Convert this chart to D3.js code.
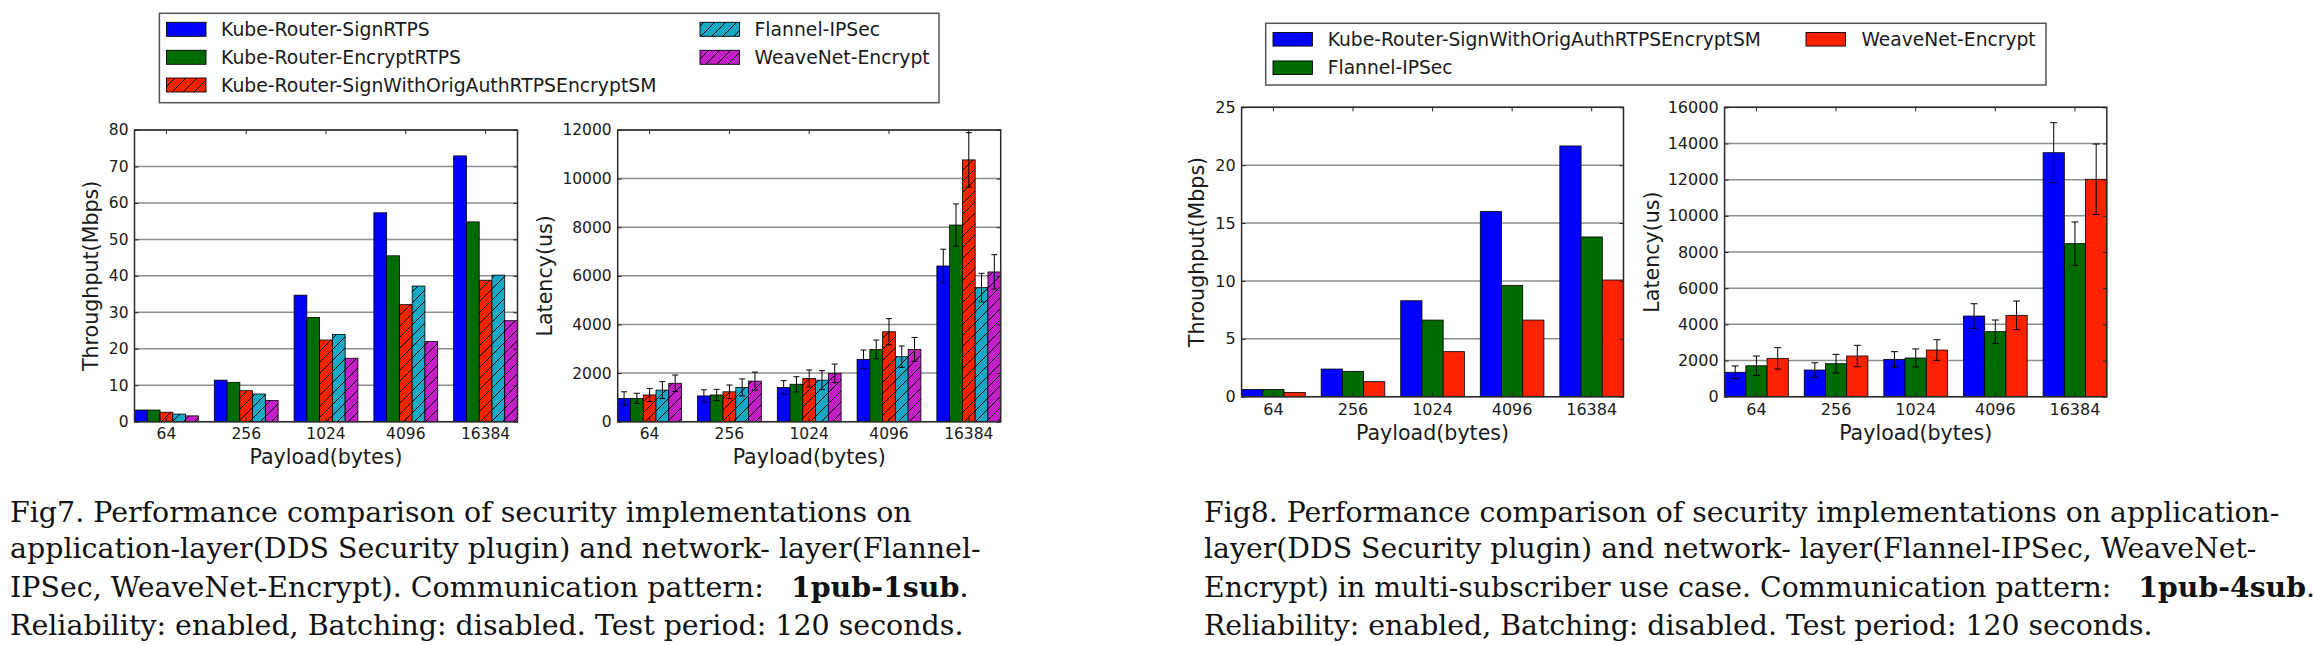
<!DOCTYPE html>
<html><head><meta charset="utf-8">
<script src="https://cdn.jsdelivr.net/npm/d3@7"></script>
<style>
html,body{margin:0;padding:0;background:#fff;}
svg{display:block;}
</style></head><body>
<svg id="c" width="2313" height="645"></svg>
<script>
// ---------------- DATA ----------------
const categories = ["64", "256", "1024", "4096", "16384"];

const fig7Series = ["Kube-Router-SignRTPS", "Kube-Router-EncryptRTPS",
  "Kube-Router-SignWithOrigAuthRTPSEncryptSM", "Flannel-IPSec", "WeaveNet-Encrypt"];
const fig8Series = ["Kube-Router-SignWithOrigAuthRTPSEncryptSM", "Flannel-IPSec", "WeaveNet-Encrypt"];

// Fig7 throughput (Mbps), one row per series, columns = categories
const fig7Throughput = [
  [3.2, 11.4, 34.7, 57.3, 72.9],
  [3.2, 10.8, 28.6, 45.5, 54.8],
  [2.6, 8.5, 22.4, 32.1, 38.8],
  [2.1, 7.6, 23.9, 37.2, 40.2],
  [1.6, 5.8, 17.4, 22.0, 27.7]
];
// Fig7 latency (us) and error (half-length)
const fig7Latency = [
  [960, 1060, 1410, 2565, 6405],
  [960, 1100, 1540, 2975, 8090],
  [1100, 1230, 1780, 3700, 10770],
  [1300, 1410, 1710, 2675, 5515],
  [1580, 1670, 1990, 2975, 6160]
];
const fig7LatencyErr = [
  [270, 250, 280, 385, 690],
  [210, 230, 310, 385, 870],
  [270, 280, 350, 540, 1120],
  [350, 350, 390, 440, 590],
  [340, 370, 380, 490, 710]
];
// Fig8 throughput (Mbps)
const fig8Throughput = [
  [0.63, 2.39, 8.29, 16.0, 21.66],
  [0.63, 2.19, 6.62, 9.62, 13.8],
  [0.37, 1.30, 3.89, 6.62, 10.08]
];
// Fig8 latency (us) and error
const fig8Latency = [
  [1350, 1475, 2065, 4460, 13490],
  [1710, 1825, 2140, 3595, 8460],
  [2120, 2250, 2580, 4500, 12020]
];
const fig8LatencyErr = [
  [350, 400, 425, 680, 1660],
  [540, 515, 500, 645, 1200],
  [590, 590, 570, 790, 1950]
];

const fig7ThroughputTicks = [0, 10, 20, 30, 40, 50, 60, 70, 80];
const fig7LatencyTicks = [0, 2000, 4000, 6000, 8000, 10000, 12000];
const fig8ThroughputTicks = [0, 5, 10, 15, 20, 25];
const fig8LatencyTicks = [0, 2000, 4000, 6000, 8000, 10000, 12000, 14000, 16000];

const xLabel = "Payload(bytes)";
const yLabelThroughput = "Throughput(Mbps)";
const yLabelLatency = "Latency(us)";

const fig7Caption = [
  "Fig7. Performance comparison of security implementations on",
  "application-layer(DDS Security plugin) and network- layer(Flannel-",
  "IPSec, WeaveNet-Encrypt). Communication pattern:   **1pub-1sub**.",
  "Reliability: enabled, Batching: disabled. Test period: 120 seconds."
];
const fig8Caption = [
  "Fig8. Performance comparison of security implementations on application-",
  "layer(DDS Security plugin) and network- layer(Flannel-IPSec, WeaveNet-",
  "Encrypt) in multi-subscriber use case. Communication pattern:   **1pub-4sub**.",
  "Reliability: enabled, Batching: disabled. Test period: 120 seconds."
];

// ---------------- STYLES ----------------
const fig7Colors = ["#0000ff", "#006b00", "#ff2200", "#16a9c3", "#c41ec8"];
const fig7Hatch = [false, false, true, true, true];
const fig8Colors = ["#0000ff", "#006b00", "#ff2200"];
const fig8Hatch = [false, false, false];

const SANS = "'DejaVu Sans', sans-serif";
const SERIF = "'DejaVu Serif', serif";

const svg = d3.select("#c");
const defs = svg.append("defs");

function hatchId(color) { return "h" + color.replace("#", ""); }
function makeHatch(color, s) {
  const p = defs.append("pattern").attr("id", hatchId(color))
    .attr("patternUnits", "userSpaceOnUse").attr("width", s).attr("height", s);
  p.append("rect").attr("width", s).attr("height", s).attr("fill", color);
  p.append("path")
    .attr("d", `M0,${s} L${s},0 M${-s/2},${s/2} L${s/2},${-s/2} M${s/2},${s*1.5} L${s*1.5},${s/2}`)
    .attr("stroke", "#000").attr("stroke-width", 1);
}
fig7Colors.forEach((c, i) => { if (fig7Hatch[i]) makeHatch(c, 11); });
function fillFor(colors, hatch, i) { return hatch[i] ? `url(#${hatchId(colors[i])})` : colors[i]; }

function drawPanel(o) {
  const g = svg.append("g");
  const x = d3.scaleBand().domain(categories).range([o.left, o.right]).paddingInner(0.2).paddingOuter(0);
  const xs = d3.scaleBand().domain(d3.range(o.values.length)).range([0, x.bandwidth()]);
  const y = d3.scaleLinear().domain([0, o.ticks[o.ticks.length - 1]]).range([o.bottom, o.top]);

  // grid
  g.append("g").selectAll("line").data(o.ticks).join("line")
    .attr("x1", o.left).attr("x2", o.right)
    .attr("y1", d => y(d)).attr("y2", d => y(d))
    .attr("stroke", "#8f8f8f").attr("stroke-width", 1.5);

  // bars
  o.values.forEach((vals, si) => {
    g.append("g").selectAll("rect").data(vals).join("rect")
      .attr("x", (d, i) => x(categories[i]) + xs(si))
      .attr("width", xs.bandwidth())
      .attr("y", d => y(d))
      .attr("height", d => y(0) - y(d))
      .attr("fill", fillFor(o.colors, o.hatch, si))
      .attr("stroke", "#000").attr("stroke-width", 0.8);
  });

  // error bars
  if (o.errs) {
    o.values.forEach((vals, si) => {
      const eg = g.append("g").attr("stroke", "#000").attr("stroke-width", 1);
      vals.forEach((v, i) => {
        const cx = x(categories[i]) + xs(si) + xs.bandwidth() / 2;
        const e = o.errs[si][i];
        const y1 = y(v - e), y2 = y(v + e);
        eg.append("line").attr("x1", cx).attr("x2", cx).attr("y1", y1).attr("y2", y2);
        eg.append("line").attr("x1", cx - o.cap).attr("x2", cx + o.cap).attr("y1", y1).attr("y2", y1);
        eg.append("line").attr("x1", cx - o.cap).attr("x2", cx + o.cap).attr("y1", y2).attr("y2", y2);
      });
    });
  }

  // axes
  const styleAxis = (sel) => {
    sel.select(".domain").remove();
    sel.selectAll(".tick line").attr("stroke", "#222").attr("stroke-width", 1);
    sel.selectAll("text").attr("font-family", SANS).attr("font-size", o.tickFont).attr("fill", "#1a1a1a");
    sel.attr("font-family", null).attr("font-size", null);
  };
  g.append("g").attr("transform", `translate(0,${o.bottom})`)
    .call(d3.axisBottom(x).tickSizeInner(-4).tickSizeOuter(0).tickPadding(o.xPad)).call(styleAxis);
  g.append("g").attr("transform", `translate(0,${o.top})`)
    .call(d3.axisTop(x).tickSizeInner(-4).tickSizeOuter(0).tickFormat("")).call(styleAxis);
  g.append("g").attr("transform", `translate(${o.left},0)`)
    .call(d3.axisLeft(y).tickValues(o.ticks).tickSizeInner(-4).tickSizeOuter(0).tickPadding(6).tickFormat(d3.format("d"))).call(styleAxis);
  g.append("g").attr("transform", `translate(${o.right},0)`)
    .call(d3.axisRight(y).tickValues(o.ticks).tickSizeInner(-4).tickSizeOuter(0).tickFormat("")).call(styleAxis);

  // frame
  g.append("rect").attr("x", o.left).attr("y", o.top)
    .attr("width", o.right - o.left).attr("height", o.bottom - o.top)
    .attr("fill", "none").attr("stroke", "#2a2a2a").attr("stroke-width", 1.5);

  // labels
  g.append("text").attr("x", (o.left + o.right) / 2).attr("y", o.xLabelY)
    .attr("text-anchor", "middle").attr("font-family", SANS).attr("font-size", 20.6)
    .attr("fill", "#1a1a1a").text(xLabel);
  g.append("text").attr("transform", `translate(${o.yLabelX},${(o.top + o.bottom) / 2}) rotate(-90)`)
    .attr("text-anchor", "middle").attr("font-family", SANS).attr("font-size", 20.6)
    .attr("fill", "#1a1a1a").text(o.yLabel);
}

function drawLegend(o) {
  const g = svg.append("g");
  g.append("rect").attr("x", o.x0).attr("y", o.y0).attr("width", o.x1 - o.x0).attr("height", o.y1 - o.y0)
    .attr("fill", "#fff").attr("stroke", "#555").attr("stroke-width", 1.5);
  o.names.forEach((name, i) => {
    const col = i < o.perCol ? 0 : 1;
    const row = i < o.perCol ? i : i - o.perCol;
    const cy = o.rows[row];
    g.append("rect").attr("x", o.swX[col]).attr("y", cy - o.swH / 2)
      .attr("width", o.swW).attr("height", o.swH)
      .attr("fill", fillFor(o.colors, o.hatch, i)).attr("stroke", "#000").attr("stroke-width", 0.9);
    g.append("text").attr("x", o.txX[col]).attr("y", cy).attr("dy", "0.36em")
      .attr("font-family", SANS).attr("font-size", o.font).attr("fill", "#1a1a1a").text(name);
  });
}

function drawCaption(lines, x0, baselines, font, refText, refWidth) {
  const g = svg.append("g");
  const inner = g.append("g");
  lines.forEach((line, li) => {
    const t = inner.append("text").attr("x", 0).attr("y", baselines[li])
      .attr("font-family", SERIF).attr("font-size", font).attr("fill", "#111")
      .style("white-space", "pre");
    line.split("**").forEach((seg, si) => {
      if (!seg) return;
      t.append("tspan").attr("font-weight", si % 2 ? "bold" : "normal").text(seg);
    });
  });
  const tmp = svg.append("text").attr("font-family", SERIF).attr("font-size", font)
    .style("white-space", "pre").text(refText);
  const w = tmp.node().getComputedTextLength();
  tmp.remove();
  const sx = refWidth / w;
  inner.attr("transform", `translate(${x0},0) scale(${sx},1)`);
}

// ---------------- FIG 7 ----------------
drawLegend({
  x0: 159.4, y0: 13.3, x1: 939, y1: 102.7,
  names: fig7Series, colors: fig7Colors, hatch: fig7Hatch, perCol: 3,
  rows: [29.3, 57.3, 85], swX: [166.5, 700], swW: 39.5, swH: 14, txX: [221, 754.5], font: 18.8
});
drawPanel({
  left: 134.5, right: 517.5, top: 130, bottom: 421.7,
  values: fig7Throughput, errs: null, colors: fig7Colors, hatch: fig7Hatch,
  ticks: fig7ThroughputTicks, tickFont: 15.5, xPad: 6.5, xLabelY: 463.5,
  yLabel: yLabelThroughput, yLabelX: 98, cap: 3
});
drawPanel({
  left: 617.7, right: 1000.7, top: 130, bottom: 421.7,
  values: fig7Latency, errs: fig7LatencyErr, colors: fig7Colors, hatch: fig7Hatch,
  ticks: fig7LatencyTicks, tickFont: 15.5, xPad: 6.5, xLabelY: 463.5,
  yLabel: yLabelLatency, yLabelX: 552, cap: 3
});
drawCaption(fig7Caption, 10, [522, 558.5, 597, 635], 27,
  "Fig7. Performance comparison of security impleme", 740);

// ---------------- FIG 8 ----------------
drawLegend({
  x0: 1265.7, y0: 23.3, x1: 2046, y1: 85,
  names: fig8Series, colors: fig8Colors, hatch: fig8Hatch, perCol: 2,
  rows: [39.3, 67.7], swX: [1273, 1806], swW: 39.4, swH: 13.5, txX: [1327.7, 1861.4], font: 18.7
});
drawPanel({
  left: 1241.6, right: 1623.5, top: 107.3, bottom: 396.7,
  values: fig8Throughput, errs: null, colors: fig8Colors, hatch: fig8Hatch,
  ticks: fig8ThroughputTicks, tickFont: 16, xPad: 6.5, xLabelY: 439.5,
  yLabel: yLabelThroughput, yLabelX: 1204, cap: 3.5
});
drawPanel({
  left: 1724.6, right: 2106.8, top: 107.3, bottom: 396.7,
  values: fig8Latency, errs: fig8LatencyErr, colors: fig8Colors, hatch: fig8Hatch,
  ticks: fig8LatencyTicks, tickFont: 16, xPad: 6.5, xLabelY: 439.5,
  yLabel: yLabelLatency, yLabelX: 1659, cap: 3.5
});
drawCaption(fig8Caption, 1204, [522, 558.5, 597, 635], 27,
  fig8Caption[0], 1076);
</script>
</body></html>
